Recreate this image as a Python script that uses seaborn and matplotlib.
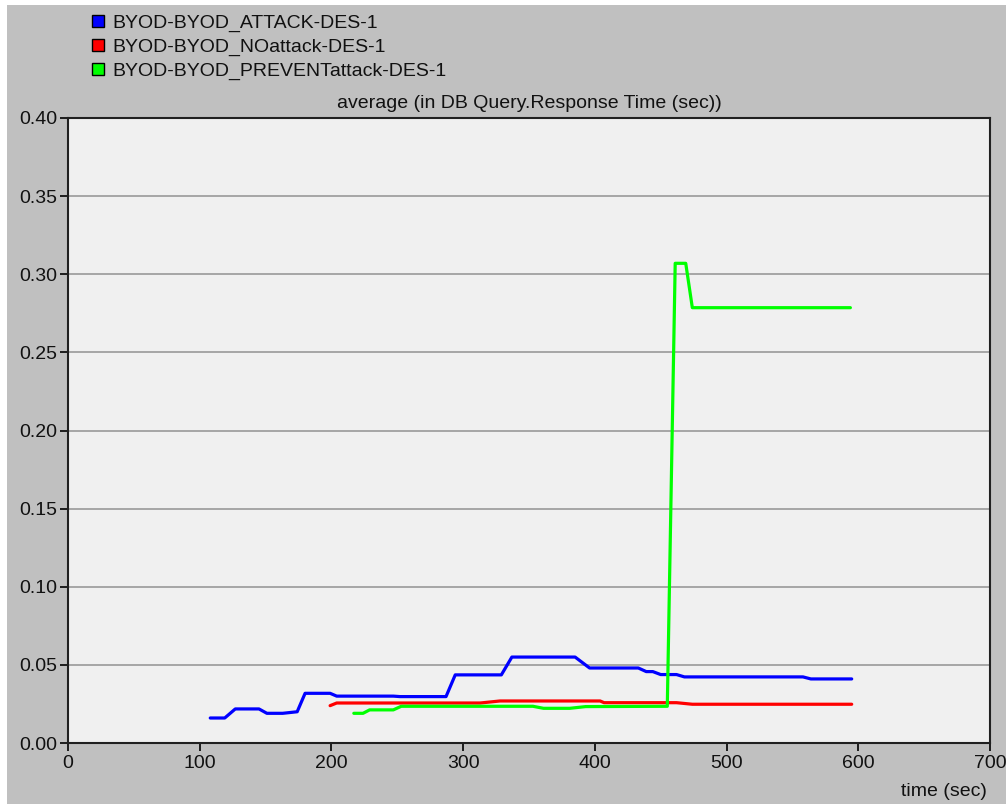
import matplotlib
matplotlib.use("Agg")
import matplotlib.pyplot as plt
from matplotlib.lines import Line2D
from matplotlib.patches import Rectangle
import seaborn as sns
import pandas as pd

# ---- data ----
series_names = ["BYOD-BYOD_ATTACK-DES-1", "BYOD-BYOD_NOattack-DES-1", "BYOD-BYOD_PREVENTattack-DES-1"]
series_colors = ["#0000ff", "#ff0000", "#00ff00"]

x_attack = [108, 119, 127, 145, 151, 163, 174, 180, 199, 204, 247, 252, 287, 294, 329, 337,
            385, 396, 433, 439, 444, 450, 462, 468, 558, 564, 595]
y_attack = [0.016, 0.016, 0.0218, 0.0218, 0.019, 0.019, 0.020, 0.0318, 0.0318, 0.030, 0.030,
            0.0297, 0.0297, 0.0436, 0.0436, 0.055, 0.055, 0.048, 0.048, 0.0457, 0.0457,
            0.0438, 0.0438, 0.0423, 0.0423, 0.041, 0.041]

x_noattack = [199, 204, 250, 313, 328, 404, 407, 426, 462, 474, 595]
y_noattack = [0.0239, 0.0256, 0.0256, 0.0256, 0.0269, 0.0269, 0.0258, 0.0258, 0.0258, 0.0248, 0.0248]

x_prevent = [217, 224, 229, 247, 253, 353, 361, 381, 393, 455, 461, 469, 474, 594]
y_prevent = [0.019, 0.019, 0.0212, 0.0212, 0.0235, 0.0235, 0.0222, 0.0222, 0.0233, 0.0235,
             0.307, 0.307, 0.2786, 0.2786]

x_ticks = [0, 100, 200, 300, 400, 500, 600, 700]
y_ticks = [0.00, 0.05, 0.10, 0.15, 0.20, 0.25, 0.30, 0.35, 0.40]
title_text = "average (in DB Query.Response Time (sec))"
xlabel_text = "time (sec)"

frames = []
for name, xs, ys in zip(series_names,
                        [x_attack, x_noattack, x_prevent],
                        [y_attack, y_noattack, y_prevent]):
    frames.append(pd.DataFrame({"time": xs, "value": ys, "series": name,
                                "order": range(len(xs))}))
df = pd.concat(frames, ignore_index=True)

sns.set_theme(style="white")
plt.rcParams["font.family"] = ["Liberation Sans", "DejaVu Sans"]

FS = 14
W, H = 1006, 806
fig = plt.figure(figsize=(W / 100, H / 100), dpi=100, facecolor="white")
# grey panel (white strip at left/top like the reference)
fig.patches.append(Rectangle((7 / W, 2 / H), 1 - 7 / W, 1 - 7 / H, transform=fig.transFigure,
                             facecolor="#c0c0c0", edgecolor="none", zorder=-10))

ax = fig.add_axes([68 / W, (H - 743) / H, (990 - 68) / W, (743 - 118) / H])
ax.set_facecolor("#f0f0f0")

sns.lineplot(data=df, x="time", y="value", hue="series", units="series",
             estimator=None, sort=False, palette=dict(zip(series_names, series_colors)),
             linewidth=2.3, legend=False, ax=ax, zorder=3)

ax.set_xlim(0, 700)
ax.set_ylim(0, 0.40)
ax.set_xticks(x_ticks)
ax.set_yticks(y_ticks)
ax.set_xticklabels([str(v) for v in x_ticks])
ax.set_yticklabels([f"{v:.2f}" for v in y_ticks])
ax.tick_params(axis="both", direction="out", length=6, width=1.2, color="black",
               labelsize=FS, labelcolor="#111111", left=True, bottom=True)
ax.tick_params(axis="y", pad=2)
ax.tick_params(axis="x", pad=3)
ax.yaxis.grid(True, color="#a0a0a0", linewidth=1.3)
ax.xaxis.grid(False)
ax.set_axisbelow(True)
for sp in ax.spines.values():
    sp.set_visible(True)
    sp.set_color("#202020")
    sp.set_linewidth(1.5)
ax.set_xlabel("")
ax.set_ylabel("")

fig.text(529 / W, 1 - 103 / H, title_text, ha="center", va="center", fontsize=FS,
         color="#111111")
fig.text(987 / W, 1 - 791 / H, xlabel_text, ha="right", va="center", fontsize=FS,
         color="#111111")

handles = [Line2D([], [], linestyle="none", marker="s", markersize=9,
                  markerfacecolor=c, markeredgecolor="black", markeredgewidth=1.0)
           for c in series_colors]
fig.legend(handles, series_names, loc="upper left", bbox_to_anchor=(77 / W, 1 - 1 / H),
           frameon=False, fontsize=FS, handlelength=0.8, handletextpad=0.3,
           labelspacing=0.3, borderpad=0.2, labelcolor="#111111")

fig.savefig("out.png", dpi=100, facecolor=fig.get_facecolor())
